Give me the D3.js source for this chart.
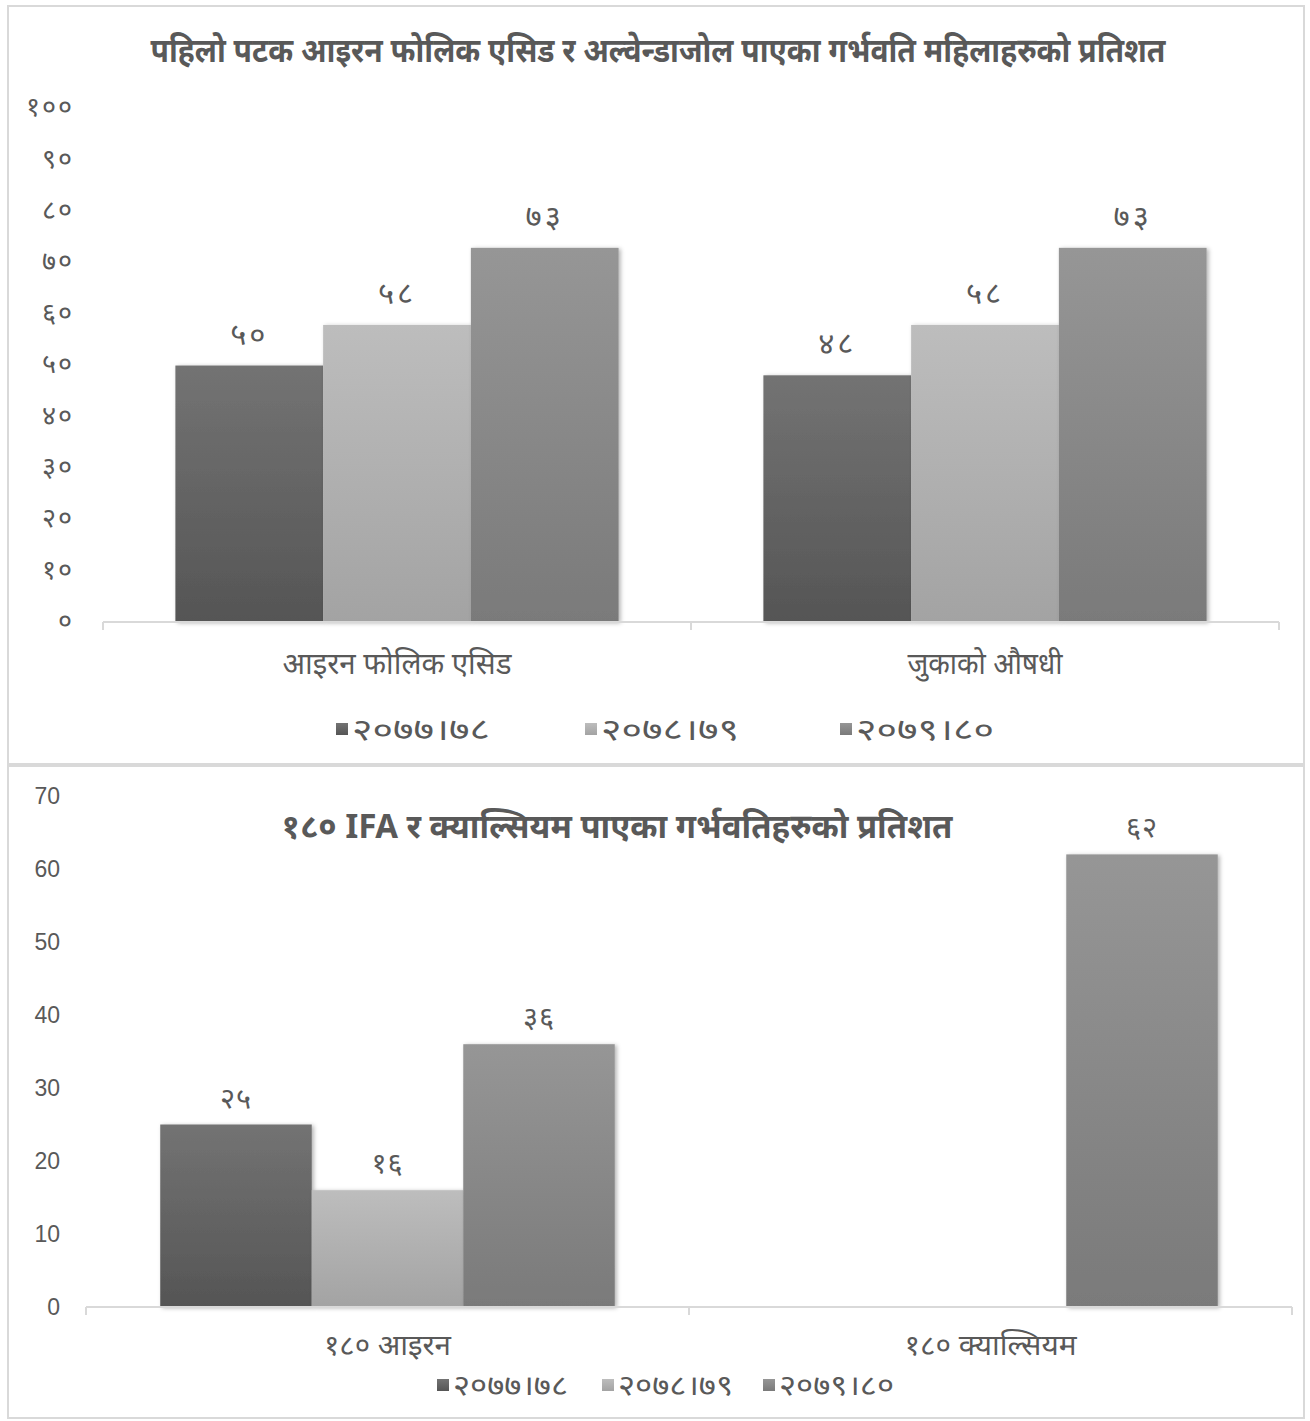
<!DOCTYPE html>
<html>
<head>
<meta charset="utf-8" />
<style>
body { margin: 0; background-color: #fff; }
svg text { fill: #595959; }
.deva { font-family: "Noto Sans Devanagari", "Noto Sans", sans-serif; }
</style>
<title>गर्भवति महिला चार्ट</title>
</head>
<body>
<div id="chart"></div>
<script src="https://d3js.org/d3.v7.min.js"></script>
<script>

// ---- data ----
var seriesNames = ["२०७७।७८", "२०७८।७९", "२०७९।८०"];

var topTitle = "पहिलो पटक आइरन फोलिक एसिड र अल्वेन्डाजोल पाएका गर्भवति महिलाहरुको प्रतिशत";
var topCategories = ["आइरन फोलिक एसिड", "जुकाको औषधी"];
var top2077 = [49.7, 47.8];
var top2078 = [57.6, 57.6];
var top2079 = [72.6, 72.6];
var topTicks = [0, 10, 20, 30, 40, 50, 60, 70, 80, 90, 100];

var bottomTitle = "१८० IFA र क्याल्सियम पाएका गर्भवतिहरुको प्रतिशत";
var bottomCategories = ["१८० आइरन", "१८० क्याल्सियम"];
var bottom2077 = [25, null];
var bottom2078 = [16, null];
var bottom2079 = [36, 62];
var bottomTicks = [0, 10, 20, 30, 40, 50, 60, 70];

var W = 1310, H = 1421;

var devDigits = "०१२३४५६७८९";
function toDeva(n) {
    return String(n).replace(/[0-9]/g, function(c) { return devDigits[+c]; });
}

var svg = d3.select("#chart").append("svg")
    .attr("width", W)
    .attr("height", H);

var defs = svg.append("defs");
var grads = [["#737373", "#555555"], ["#bdbdbd", "#a3a3a3"], ["#969696", "#7a7a7a"]];
grads.forEach(function(g, i) {
    var lg = defs.append("linearGradient").attr("id", "g" + i)
        .attr("x1", 0).attr("y1", 0).attr("x2", 0).attr("y2", 1);
    lg.append("stop").attr("offset", "0%").attr("stop-color", g[0]);
    lg.append("stop").attr("offset", "100%").attr("stop-color", g[1]);
});
var f = defs.append("filter").attr("id", "shadow")
    .attr("x", "-10%").attr("y", "-10%").attr("width", "130%").attr("height", "130%");
f.append("feDropShadow").attr("dx", 2).attr("dy", 1).attr("stdDeviation", 2)
    .attr("flood-color", "#000").attr("flood-opacity", 0.3);

// outer frames
svg.append("rect").attr("x", 8).attr("y", 6).attr("width", 1296).attr("height", 758)
    .attr("fill", "none").attr("stroke", "#d9d9d9").attr("stroke-width", 2);
svg.append("rect").attr("x", 8).attr("y", 766).attr("width", 1296).attr("height", 652)
    .attr("fill", "none").attr("stroke", "#d9d9d9").attr("stroke-width", 2);

// squeeze or stretch a text to a given width (the source fonts are condensed)
function fit(sel, len) {
    sel.attr("textLength", len).attr("lengthAdjust", "spacingAndGlyphs");
}

function drawChart(o) {
    var g = svg.append("g");
    var rows = o.categories.map(function(c, i) {
        return { cat: c, vals: o.values.map(function(v) { return v[i]; }) };
    });

    var x0 = d3.scaleBand().domain(o.categories).range([o.x0, o.x1]);
    var x1 = d3.scaleBand().domain(d3.range(o.values.length))
        .range([0, x0.bandwidth()]).paddingOuter(0.49);
    var y = d3.scaleLinear().domain([0, d3.max(o.ticks)]).range([o.yBase, o.yTop]);

    // y axis labels
    var yAxis = d3.axisLeft(y).tickValues(o.ticks).tickSize(0).tickPadding(0)
        .tickFormat(o.tickFmt);
    var ya = g.append("g").attr("transform", "translate(" + o.yLabelX + ",0)").call(yAxis);
    ya.select(".domain").remove();
    ya.selectAll("text").attr("class", o.tickClass)
        .style("font-size", o.tickSize + "px").style("fill", "#595959")
        .style("letter-spacing", o.tickSpacing + "px");

    // bars
    var grp = g.selectAll(".grp").data(rows).enter().append("g")
        .attr("transform", function(d) { return "translate(" + x0(d.cat) + ",0)"; });
    function present(d) {
        return d.vals.map(function(v, i) { return { v: v, i: i }; })
            .filter(function(e) { return e.v != null; });
    }
    grp.selectAll("rect").data(present).enter().append("rect")
        .attr("x", function(d) { return x1(d.i); })
        .attr("y", function(d) { return y(d.v); })
        .attr("width", x1.bandwidth())
        .attr("height", function(d) { return o.axisY - y(d.v); })
        .attr("fill", function(d) { return "url(#g" + d.i + ")"; })
        .attr("filter", "url(#shadow)");
    grp.selectAll(".lbl").data(present).enter().append("text")
        .attr("class", "deva")
        .attr("x", function(d) { return x1(d.i) + x1.bandwidth() / 2; })
        .attr("y", function(d) { return y(d.v) - o.labelGap; })
        .attr("text-anchor", "middle")
        .style("font-size", o.labelSize + "px")
        .style("letter-spacing", o.labelSpacing + "px")
        .text(function(d) { return toDeva(Math.round(d.v)); });

    // x axis
    var xa = d3.axisBottom(x0).tickSize(0).tickPadding(o.catPad);
    var xg = g.append("g").attr("transform", "translate(0," + o.axisY + ")").call(xa);
    xg.select(".domain").remove();
    xg.selectAll("text").attr("class", "deva").style("font-size", o.catSize + "px")
        .style("fill", "#595959")
        .each(function(d, i) { fit(d3.select(this), o.catLen[i]); });
    g.append("line").attr("x1", o.x0).attr("x2", o.x1).attr("y1", o.axisY).attr("y2", o.axisY)
        .attr("stroke", "#d9d9d9").attr("stroke-width", 2);
    [o.x0, (o.x0 + o.x1) / 2, o.x1].forEach(function(t) {
        g.append("line").attr("x1", t).attr("x2", t).attr("y1", o.axisY).attr("y2", o.axisY + 8)
            .attr("stroke", "#d9d9d9").attr("stroke-width", 2);
    });

    // title
    g.append("text").attr("class", "deva")
        .attr("x", o.titleX).attr("y", o.titleY)
        .attr("text-anchor", "middle")
        .style("font-size", o.titleSize + "px").style("font-weight", "bold")
        .text(o.title)
        .call(fit, o.titleLen);

    // legend
    var lg = g.selectAll(".leg").data(seriesNames).enter().append("g")
        .attr("transform", function(d, i) { return "translate(" + o.legX[i] + "," + o.legY + ")"; });
    lg.append("rect").attr("x", 0).attr("y", -6).attr("width", 12).attr("height", 12)
        .attr("fill", function(d, i) { return "url(#g" + i + ")"; });
    lg.append("text").attr("class", "deva").attr("x", 16).attr("dy", "0.35em")
        .style("font-size", o.legSize + "px")
        .text(function(d) { return d; })
        .call(fit, o.legLen);
}

drawChart({
    title: topTitle, titleX: 658, titleY: 62, titleSize: 34, titleLen: 1015,
    categories: topCategories, values: [top2077, top2078, top2079],
    ticks: topTicks, tickFmt: toDeva, tickClass: "deva", tickSize: 27, tickSpacing: 2,
    x0: 103, x1: 1279, yBase: 621, yTop: 107, axisY: 622, yLabelX: 74,
    labelGap: 21, labelSize: 31, labelSpacing: 3,
    catPad: 31, catSize: 30, catLen: [229, 155],
    legX: [336, 585, 840], legY: 729, legSize: 30, legLen: 138
});

drawChart({
    title: bottomTitle, titleX: 617, titleY: 838, titleSize: 34, titleLen: 671,
    categories: bottomCategories, values: [bottom2077, bottom2078, bottom2079],
    ticks: bottomTicks, tickFmt: d3.format("d"), tickClass: "", tickSize: 23, tickSpacing: 0,
    x0: 86, x1: 1292, yBase: 1307, yTop: 796, axisY: 1307, yLabelX: 60,
    labelGap: 17, labelSize: 29, labelSpacing: 1,
    catPad: 28, catSize: 28, catLen: [127, 172],
    legX: [437, 602, 763], legY: 1385, legSize: 28, legLen: 115
});

</script>
</body>
</html>
